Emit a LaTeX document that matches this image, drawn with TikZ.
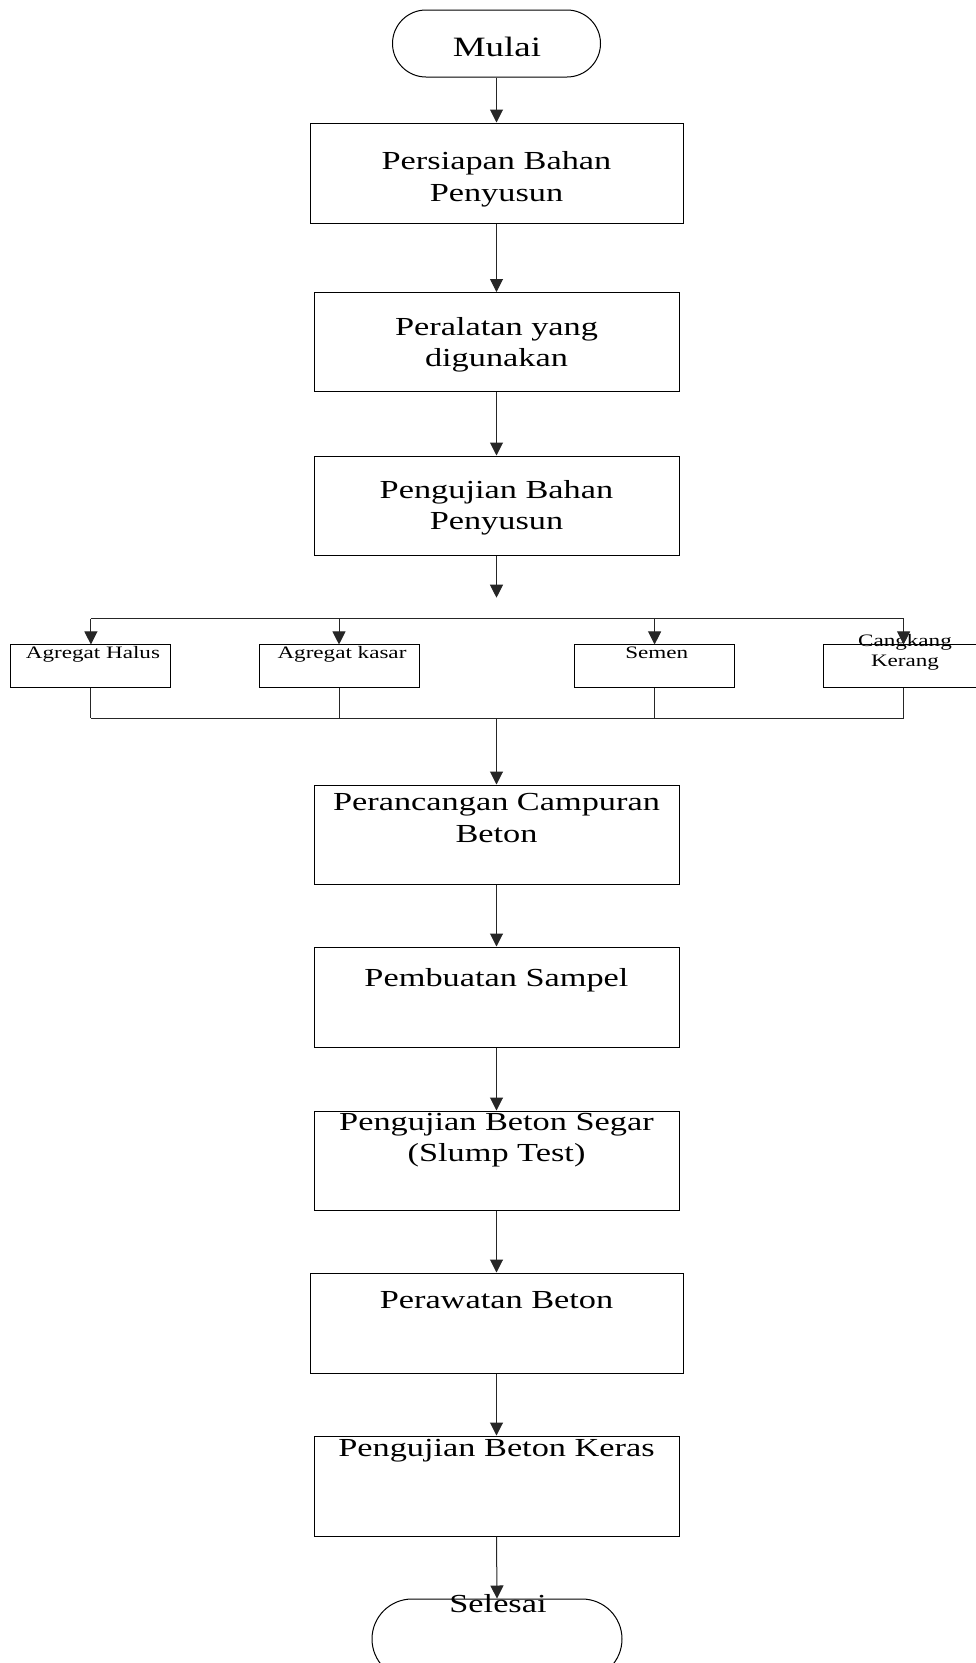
\documentclass[tikz,border=0pt]{standalone}
\usepackage{fontspec}
\setmainfont[FakeStretch=1.32]{Liberation Serif}
\usetikzlibrary{arrows.meta}
\begin{document}
\begin{tikzpicture}[x=1pt,y=-1pt,
  box/.style={draw=black,line width=1pt,inner sep=0pt,minimum width=365pt,minimum height=99pt},
  wbox/.style={box,minimum width=373pt,minimum height=100pt},
  sbox/.style={draw=black,line width=1pt,inner sep=0pt,minimum width=160pt,minimum height=42.7pt},
  term/.style={draw=black,line width=1pt,inner sep=0pt},
  txt/.style={inner sep=0pt,align=center,anchor=base,font=\fontsize{26}{31.5}\selectfont},
  stxt/.style={inner sep=0pt,align=center,anchor=base,font=\fontsize{17.5}{20}\selectfont},
  conn/.style={draw=black!85,line width=1pt},
  arr/.style={conn,-{Triangle[width=13pt,length=13pt]}}]
\useasboundingbox (0,0) rectangle (976,1663);
\clip (0,0) rectangle (976,1663);
\fill[white] (0,0) rectangle (976,1663);
% terminals
\node[term,minimum width=208pt,minimum height=67pt,rounded corners=33.5pt] (mulai) at (496.5,43.5) {};
\node[term,minimum width=250pt,minimum height=80pt,rounded corners=40pt] (selesai) at (497,1639) {};
% main boxes
\node[wbox] (b1) at (496.5,173) {};
\node[box] (b2) at (496.5,342) {};
\node[box] (b3) at (496.5,505.5) {};
\node[box] (b4) at (496.5,834.5) {};
\node[box,minimum height=100pt] (b5) at (496.5,997) {};
\node[box] (b6) at (496.5,1160.5) {};
\node[wbox] (b7) at (496.5,1323) {};
\node[box,minimum height=100pt] (b8) at (496.5,1486) {};
% small boxes
\node[sbox] (halus) at (90.9,666.3) {};
\node[sbox] (kasar) at (339,666.3) {};
\node[sbox] (semen) at (654.6,666.3) {};
\node[sbox] (kerang) at (903.6,666.3) {};
% texts (base anchor = baseline of the last line)
\node[txt,font=\fontsize{28}{31.5}\selectfont] (tmulai) at (497,56.7) {Mulai};
\node[txt] (t1) at (496.5,201) {Persiapan Bahan\\Penyusun};
\node[txt] (t2) at (496.5,366.5) {Peralatan yang\\digunakan};
\node[txt] (t3) at (496.5,529.8) {Pengujian Bahan\\Penyusun};
\node[txt] (t4) at (496.5,842) {Perancangan Campuran\\Beton};
\node[txt] (t5) at (496.5,986) {Pembuatan Sampel};
\node[txt] (t6) at (496.5,1161.5) {Pengujian Beton Segar\\(Slump Test)};
\node[txt] (t7) at (496.5,1308.3) {Perawatan Beton};
\node[txt] (t8) at (496.5,1456.7) {Pengujian Beton Keras};
\node[txt] (tselesai) at (498,1612.7) {Selesai};
\node[stxt] (thalus) at (93,658.3) {Agregat Halus};
\node[stxt] (tkasar) at (342,658.3) {Agregat kasar};
\node[stxt] (tsemen) at (656.7,658.3) {Semen};
\node[stxt] (tkerang) at (905,666.7) {Cangkang\\Kerang};
% coordinates
\coordinate (c3) at (496.5,597.7);
\coordinate (busT) at (496.5,618.7);
\coordinate (busB) at (496.5,718.3);
% connectors
\draw[arr] (mulai.south) -- (b1.north);
\draw[arr] (b1.south) -- (b2.north);
\draw[arr] (b2.south) -- (b3.north);
\draw[arr] (b3.south) -- (c3);
\draw[conn] (halus.north |- busT) -- (kerang.north |- busT);
\foreach \n in {halus,kasar,semen,kerang}
  \draw[arr] (\n.north |- busT) -- (\n.north);
\foreach \n in {halus,kasar,semen,kerang}
  \draw[conn] (\n.south) -- (\n.south |- busB);
\draw[conn] (halus.south |- busB) -- (kerang.south |- busB);
\draw[arr] (busB) -- (b4.north);
\draw[arr] (b4.south) -- (b5.north);
\draw[arr] (b5.south) -- (b6.north);
\draw[arr] (b6.south) -- (b7.north);
\draw[arr] (b7.south) -- (b8.north);
\draw[arr] (b8.south) -- (selesai.north);
\end{tikzpicture}
\end{document}
